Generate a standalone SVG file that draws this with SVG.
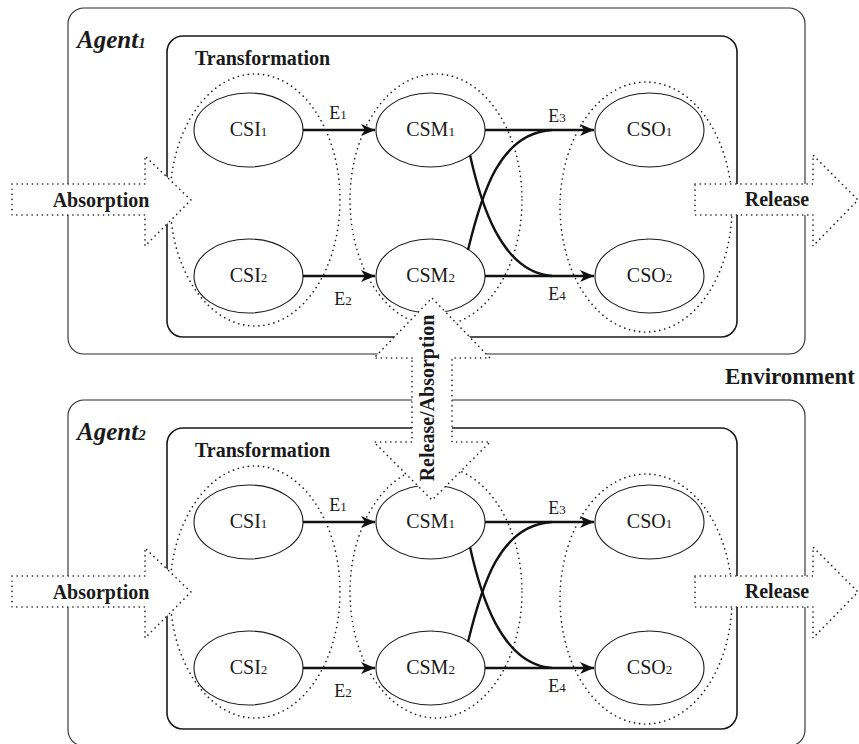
<svg xmlns="http://www.w3.org/2000/svg" width="859" height="744" viewBox="0 0 859 744">
  <style>
    .outer { fill: none; stroke: #2a2a2a; stroke-width: 1.1; }
    .inner { fill: none; stroke: #1a1a1a; stroke-width: 1.6; }
    .group { fill: none; stroke: #1a1a1a; stroke-width: 1.6; stroke-dasharray: 0.1 5; stroke-linecap: round; }
    .node { fill: #fff; stroke: #1a1a1a; stroke-width: 1.1; }
    .edge { fill: none; stroke: #111; stroke-width: 2.4; }
    .flow { fill: #fff; stroke: #1a1a1a; stroke-width: 1.6; stroke-dasharray: 0.1 5; stroke-linecap: round; }
    .lbl { font-family: "Liberation Serif", "Times New Roman", serif; font-size: 20px; fill: #1a1a1a; text-anchor: middle; }
    .sub { font-size: 13px; }
    .elbl { font-family: "Liberation Serif", "Times New Roman", serif; font-size: 18px; fill: #1a1a1a; text-anchor: middle; }
    .bold { font-family: "Liberation Serif", "Times New Roman", serif; font-size: 20px; font-weight: bold; fill: #1a1a1a; }
    .agent { font-family: "Liberation Serif", "Times New Roman", serif; font-size: 25px; font-weight: bold; font-style: italic; fill: #1a1a1a; }
  </style>
  <defs>
    <marker id="arrow" markerUnits="userSpaceOnUse" markerWidth="16" markerHeight="14" refX="14" refY="7" orient="auto">
      <path d="M0,1 L14,7 L0,13 L4,7 Z" fill="#111"/>
    </marker>
    <!-- one agent: containers, concept-state groups, nodes and labels -->
    <g id="agentTemplate">
      <rect class="outer" x="68" y="8" width="737" height="346" rx="16"/>
      <rect class="inner" x="167" y="36" width="570" height="301" rx="16"/>
      <text class="bold" x="195" y="65">Transformation</text>
      <ellipse class="group" cx="255" cy="200" rx="85" ry="126"/>
      <ellipse class="group" cx="436" cy="200" rx="86" ry="126"/>
      <ellipse class="group" cx="646" cy="207" rx="86" ry="125"/>
      <g id="csi1"><ellipse class="node" cx="248.5" cy="130" rx="54.5" ry="37"/><text class="lbl" x="248.5" y="136">CSI<tspan class="sub">1</tspan></text></g>
      <g id="csi2"><ellipse class="node" cx="248.5" cy="276" rx="54.5" ry="37"/><text class="lbl" x="248.5" y="282">CSI<tspan class="sub">2</tspan></text></g>
      <g id="csm1"><ellipse class="node" cx="430.5" cy="130" rx="54.5" ry="37"/><text class="lbl" x="430.5" y="136">CSM<tspan class="sub">1</tspan></text></g>
      <g id="csm2"><ellipse class="node" cx="430.5" cy="276" rx="54.5" ry="37"/><text class="lbl" x="430.5" y="282">CSM<tspan class="sub">2</tspan></text></g>
      <g id="cso1"><ellipse class="node" cx="649.5" cy="130" rx="54.5" ry="37"/><text class="lbl" x="649.5" y="136">CSO<tspan class="sub">1</tspan></text></g>
      <g id="cso2"><ellipse class="node" cx="649.5" cy="276" rx="54.5" ry="37"/><text class="lbl" x="649.5" y="282">CSO<tspan class="sub">2</tspan></text></g>
      <g id="edges">
        <line class="edge" x1="303" y1="130" x2="375" y2="130" marker-end="url(#arrow)"/>
        <line class="edge" x1="303" y1="276" x2="375" y2="276" marker-end="url(#arrow)"/>
        <line class="edge" x1="485" y1="130" x2="594" y2="130" marker-end="url(#arrow)"/>
        <line class="edge" x1="485" y1="276" x2="594" y2="276" marker-end="url(#arrow)"/>
        <path class="edge" d="M468,250 C482,192 500,133 552,130"/>
        <path class="edge" d="M470,155 C480,200 500,272 552,276"/>
        <text class="elbl" x="338" y="119">E<tspan class="sub">1</tspan></text>
        <text class="elbl" x="343" y="305">E<tspan class="sub">2</tspan></text>
        <text class="elbl" x="557" y="122">E<tspan class="sub">3</tspan></text>
        <text class="elbl" x="557" y="300">E<tspan class="sub">4</tspan></text>
      </g>
      <!-- absorption / release flows across the agent boundary -->
      <path class="flow" d="M12,184 H145 V156 L191,200 L145,246 V215 H12 Z"/>
      <text class="bold" x="101" y="207" text-anchor="middle">Absorption</text>
      <path class="flow" d="M695,184 H813 V155 L858,200 L813,246 V215 H695 Z"/>
      <text class="bold" x="777" y="206" text-anchor="middle">Release</text>
    </g>
  </defs>

  <g id="agent1">
    <use href="#agentTemplate"/>
    <text class="agent" x="77" y="48">Agent<tspan font-size="15">1</tspan></text>
  </g>

  <g id="agent2">
    <use href="#agentTemplate" transform="translate(0,392)"/>
    <text class="agent" x="77" y="440">Agent<tspan font-size="15">2</tspan></text>
  </g>

  <g id="environment">
    <text class="bold" x="725" y="384" style="font-size:23px">Environment</text>
  </g>

  <!-- exchange between the two agents -->
  <g id="exchange">
    <path class="flow" d="M412,358 H374 L432,298 L490,358 H452 V442 H490 L432,500 L374,442 H412 Z"/>
    <text class="bold" transform="translate(434,398) rotate(-90)" text-anchor="middle">Release/Absorption</text>
  </g>
</svg>
